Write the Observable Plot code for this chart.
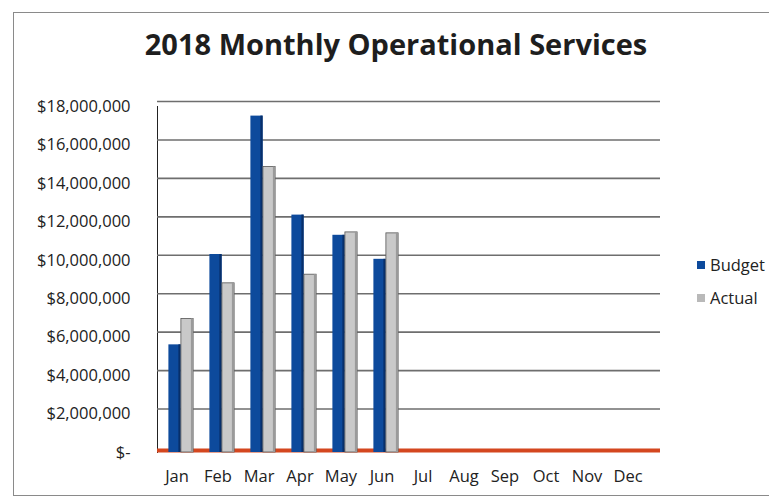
<!DOCTYPE html>
<html>
<head>
<meta charset="utf-8">
<script src="https://cdn.jsdelivr.net/npm/d3@7"></script>
<script src="https://cdn.jsdelivr.net/npm/@observablehq/plot@0.6"></script>
<style>
  html, body { margin: 0; padding: 0; background: #fff; }
  #wrap { position: relative; width: 769px; height: 498px; overflow: hidden; font-family: "Open Sans", sans-serif; }
  #border { position: absolute; left: 13px; top: 12px; width: 800px; height: 484px; border: 1.5px solid #8a8a8a; box-sizing: border-box; }
  #title { position: absolute; left: 0; width: 792px; top: 24px; text-align: center; font-size: 29px; font-weight: 700; color: #1e1e1e; letter-spacing: 0px; }
  #chart { position: absolute; left: 0; top: 0; }
  .leg { position: absolute; left: 697px; font-size: 16.5px; color: #222; display: flex; align-items: center; font-weight: 500; }
  .leg span.sw { display: inline-block; width: 8px; height: 8px; margin-right: 5px; }
  #chart svg text { font-weight: 500; }
</style>
</head>
<body>
<div id="wrap">
  <div id="border"></div>
  <div id="title">2018 Monthly Operational Services</div>
  <div id="chart"></div>
  <div class="leg" style="top:253px"><span class="sw" style="background:#0d4a9c"></span>Budget</div>
  <div class="leg" style="top:286px"><span class="sw" style="background:#b9b9b9"></span>Actual</div>
</div>
<script>
const months = ["Jan","Feb","Mar","Apr","May","Jun","Jul","Aug","Sep","Oct","Nov","Dec"];
const budget = [5600000, 10300000, 17500000, 12350000, 11300000, 10050000, 0, 0, 0, 0, 0, 0];
const actual = [6950000, 8800000, 14850000, 9250000, 11450000, 11400000, 0, 0, 0, 0, 0, 0];
const yTicks = [0, 2000000, 4000000, 6000000, 8000000, 10000000, 12000000, 14000000, 16000000, 18000000];

const bData = months.map((m, i) => ({month: m, value: budget[i]}));
const aData = months.map((m, i) => ({month: m, value: actual[i]}));

const fmt = d => d === 0 ? "$-" : "$" + d3.format(",")(d);
const inset = 14.4;

const chart = Plot.plot({
  width: 769,
  height: 498,
  marginLeft: 157,
  marginRight: 109,
  marginTop: 106,
  marginBottom: 46,
  style: {fontFamily: "Open Sans, sans-serif", fontSize: "16.5px", color: "#222", background: "transparent"},
  x: {type: "band", domain: months, range: [154.35, 649.65], padding: 0, tickSize: 0, tickPadding: 18, label: null},
  y: {domain: [0, 18000000], ticks: yTicks, tickFormat: fmt, tickSize: 0, tickPadding: 27, label: null, line: true},
  marks: [
    Plot.ruleY(yTicks.filter(d => d > 0), {stroke: "#6e6e6e", strokeWidth: 1.6, dy: -5}),
    Plot.ruleY([0], {stroke: "#d4471f", strokeWidth: 4, dy: -2}),
    Plot.barY(bData, {x: "month", y: "value", fill: "#0d4a9c", insetLeft: inset, insetRight: inset, dx: -2}),
    Plot.barY(bData, {x: "month", y: "value", fill: "#072f6a", insetLeft: inset + 10, insetRight: inset, dx: -2}),
    Plot.barY(aData, {x: "month", y: "value", fill: "#c9c9c9", stroke: "#555", strokeWidth: 0.8, insetLeft: inset, insetRight: inset, dx: 10.5}),
    Plot.barY(aData, {x: "month", y: "value", fill: "#9a9a9a", insetLeft: inset + 10, insetRight: inset, dx: 10.5})
  ]
});
document.getElementById("chart").appendChild(chart);
</script>
</body>
</html>
